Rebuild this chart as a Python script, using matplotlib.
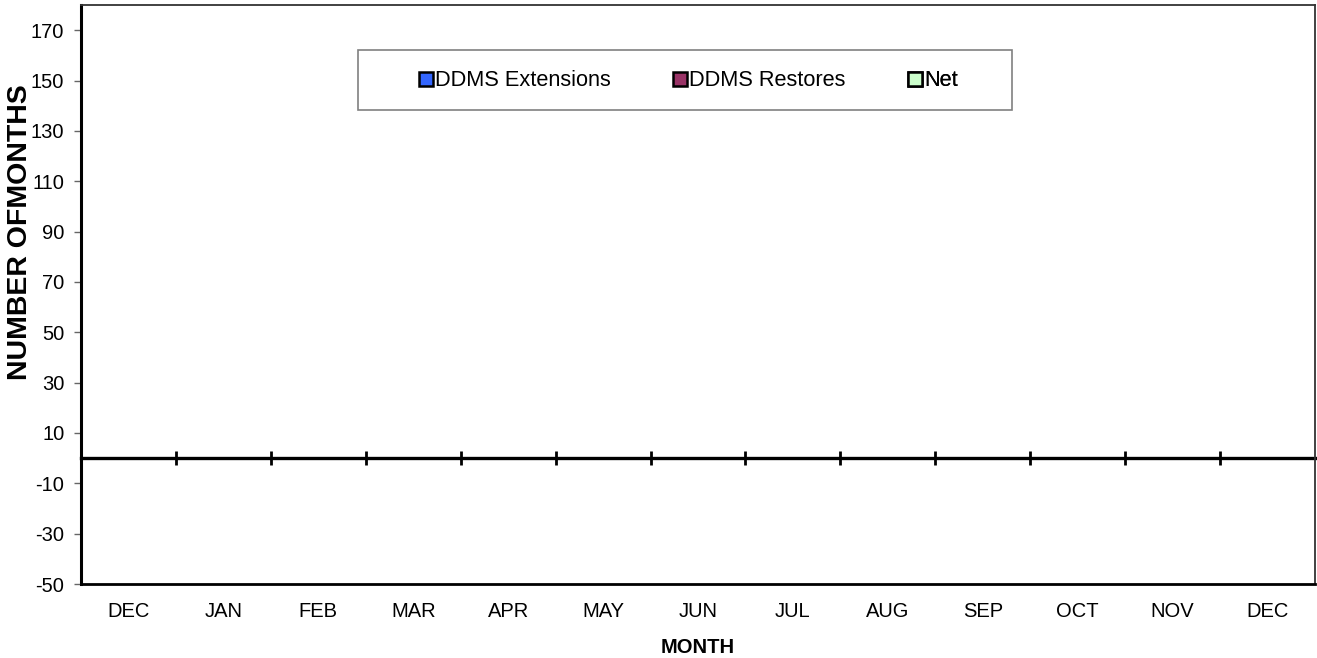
import matplotlib
matplotlib.use("Agg")
import matplotlib.pyplot as plt
from matplotlib.patches import Rectangle
import numpy as np

plt.rcParams['font.family'] = ['Liberation Sans', 'DejaVu Sans']

months = ["DEC", "JAN", "FEB", "MAR", "APR", "MAY", "JUN", "JUL", "AUG", "SEP", "OCT", "NOV", "DEC"]
ddms_extensions = [0, 0, 0, 0, 0, 0, 0, 0, 0, 0, 0, 0, 0]
ddms_restores = [0, 0, 0, 0, 0, 0, 0, 0, 0, 0, 0, 0, 0]
net = [0, 0, 0, 0, 0, 0, 0, 0, 0, 0, 0, 0, 0]
y_ticks = [-50, -30, -10, 10, 30, 50, 70, 90, 110, 130, 150, 170]

series = [
    ("DDMS Extensions", ddms_extensions, "#3366FF"),
    ("DDMS Restores", ddms_restores, "#993366"),
    ("Net", net, "#CCFFCC"),
]

W, H = 1317, 658
fig = plt.figure(figsize=(W / 100, H / 100), dpi=100)
ax = fig.add_axes([81 / W, 74 / H, (1315 - 81) / W, (584 - 5) / H])

x = np.arange(len(months))
w = 0.25
bars = []
for i, (name, vals, col) in enumerate(series):
    b = ax.bar(x + (i - 1) * w, vals, w, color=col, edgecolor="black", linewidth=1.8, label=name)
    bars.append(b)

ax.set_xlim(-0.5, len(months) - 0.5)
ax.set_ylim(-50, 180)
ax.set_yticks(y_ticks)
ax.set_yticklabels([str(v) for v in y_ticks], fontsize=14.5)
ax.set_xticks(x)
ax.set_xticklabels(months, fontsize=14.5)
ax.tick_params(axis="x", length=0, pad=13)
ax.tick_params(axis="y", length=5, width=1, color="#666666", pad=7, direction="out")

for s in ["top", "right"]:
    ax.spines[s].set_linewidth(1.3)
    ax.spines[s].set_color("#333333")
ax.spines["left"].set_linewidth(2.2)
ax.spines["bottom"].set_linewidth(2)

# zero axis line with category boundary ticks
zero_frac = (0 - (-50)) / (180 - (-50))
sec = ax.secondary_xaxis(zero_frac)
sec.set_xticks(x[:-1] + 0.5)
sec.set_xticklabels([])
sec.tick_params(axis="x", direction="inout", length=10, width=2, color="black")
sec.spines["bottom"].set_linewidth(2.4)
sec.spines["bottom"].set_color("black")

ax.set_ylabel("NUMBER OFMONTHS", fontsize=20.5, fontweight="bold", labelpad=0)
ax.yaxis.set_label_coords(-(81 - 33) / (1315 - 81), (584 - 232) / 579)
ax.set_xlabel("MONTH", fontsize=14.5, fontweight="bold", labelpad=12)

# legend frame
fig.add_artist(Rectangle((358 / W, (H - 110) / H), 654 / W, 60 / H, transform=fig.transFigure,
                         facecolor="none", edgecolor="#808080", linewidth=1.2, zorder=5))

handle_x = [419, 673, 908]
for b, (name, _, _), hx in zip(bars, series, handle_x):
    lg = ax.legend([b], [name], loc="center left",
                   bbox_to_anchor=(hx / W, (H - 81) / H), bbox_transform=fig.transFigure,
                   fontsize=15.7, frameon=False, handlelength=0.64, handleheight=0.64,
                   handletextpad=0.1, borderpad=0, borderaxespad=0)
    ax.add_artist(lg)

fig.savefig("out.png", dpi=100)
